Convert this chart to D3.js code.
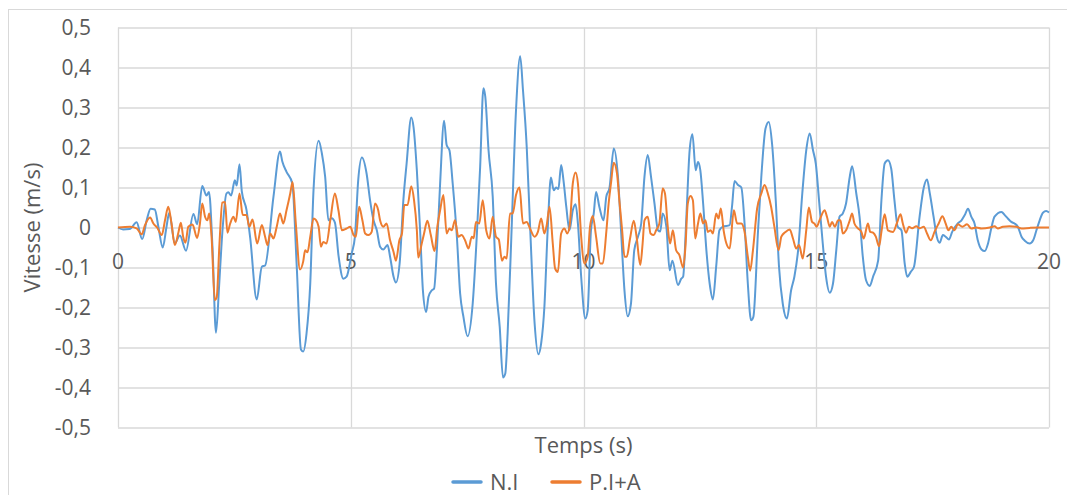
<!DOCTYPE html>
<html>
<head>
<meta charset="utf-8">
<script src="https://cdn.jsdelivr.net/npm/d3@7"></script>
<style>
  body { margin: 0; background: #fff; }
  svg { display: block; font-family: "Open Sans", sans-serif; }
  .tick-label { fill: #595959; font-size: 21px; }
  .axis-title { fill: #595959; font-size: 22px; }
  .legend-label { fill: #595959; font-size: 22px; }
</style>
</head>
<body>
<svg id="chart"></svg>
<script>
// N.I series (time in s, velocity in m/s)
const timeNI = [0, 0.11, 0.25, 0.4, 0.52, 0.62, 0.7, 0.79, 0.87, 0.96, 1.04, 1.1, 1.22, 1.33, 1.46, 1.62, 1.7, 1.81, 1.9, 1.955,
  2.03, 2.105, 2.17, 2.23, 2.33, 2.37, 2.43, 2.51, 2.55, 2.61, 2.66, 2.76, 2.84, 2.98, 3.09, 3.16, 3.34, 3.48, 3.53, 3.62,
  3.745, 3.84, 3.93, 3.98, 4.05, 4.13, 4.2, 4.31, 4.38, 4.45, 4.52, 4.59, 4.66, 4.74, 4.84, 4.91, 5.02, 5.09, 5.16, 5.24,
  5.34, 5.415, 5.49, 5.56, 5.63, 5.7, 5.79, 5.845, 5.92, 5.97, 6.05, 6.13, 6.2, 6.3, 6.35, 6.42, 6.49, 6.55, 6.62, 6.67,
  6.74, 6.79, 6.85, 6.92, 7.005, 7.06, 7.12, 7.19, 7.28, 7.35, 7.42, 7.51, 7.62, 7.71, 7.78, 7.85, 7.89, 7.96, 8.05, 8.12,
  8.2, 8.27, 8.32, 8.37, 8.45, 8.55, 8.64, 8.7, 8.78, 8.85, 8.95, 9.03, 9.09, 9.16, 9.23, 9.3, 9.36, 9.41, 9.46, 9.52,
  9.57, 9.63, 9.7, 9.77, 9.83, 9.88, 9.95, 10.04, 10.09, 10.16, 10.22, 10.27, 10.34, 10.43, 10.49, 10.56, 10.65, 10.74, 10.81, 10.88,
  10.95, 11.02, 11.09, 11.17, 11.24, 11.31, 11.38, 11.45, 11.525, 11.6, 11.65, 11.7, 11.78, 11.85, 11.91, 12.03, 12.1, 12.14, 12.21, 12.28,
  12.34, 12.41, 12.46, 12.51, 12.57, 12.64, 12.71, 12.78, 12.85, 12.92, 12.995, 13.14, 13.19, 13.245, 13.32, 13.39, 13.46, 13.53, 13.6, 13.65,
  13.75, 13.82, 13.91, 13.98, 14.05, 14.13, 14.2, 14.28, 14.37, 14.46, 14.53, 14.61, 14.7, 14.785, 14.86, 14.93, 14.99, 15.06, 15.14, 15.21,
  15.29, 15.36, 15.43, 15.5, 15.57, 15.64, 15.72, 15.77, 15.86, 15.93, 16, 16.07, 16.15, 16.22, 16.33, 16.4, 16.47, 16.54, 16.61, 16.68,
  16.75, 16.83, 16.9, 16.955, 17.03, 17.1, 17.22, 17.31, 17.38, 17.44, 17.52, 17.59, 17.65, 17.72, 17.78, 17.85, 17.92, 18.04, 18.12, 18.19,
  18.26, 18.33, 18.4, 18.47, 18.55, 18.62, 18.69, 18.76, 18.83, 18.98, 19.05, 19.12, 19.19, 19.26, 19.33, 19.41, 19.48, 19.585, 19.66, 19.73,
  19.8, 19.87, 19.94, 20];
const speedNI = [0, -0.005, -0.004, 0.013, -0.029, 0.02, 0.047, 0.045, 0, -0.05, 0, 0.036, -0.039, -0.02, -0.058, 0.034, 0.008, 0.104, 0.08, 0.089,
  -0.05, -0.263, -0.15, -0.031, 0.085, 0.088, 0.08, 0.118, 0.105, 0.158, 0.09, 0.044, -0.026, -0.18, -0.098, -0.095, 0.077, 0.19, 0.165, 0.139,
  0.11, -0.098, -0.305, -0.31, -0.265, -0.14, 0.093, 0.217, 0.185, 0.127, 0.018, 0.023, 0.012, -0.073, -0.128, -0.123, -0.065, -0.023, 0.118, 0.175,
  0.135, 0.068, 0.018, -0.007, -0.048, -0.055, -0.044, -0.073, -0.123, -0.1375, -0.09, 0.068, 0.16, 0.275, 0.25, 0.143, -0.007, -0.157, -0.211, -0.173,
  -0.157, -0.153, -0.057, 0.11, 0.267, 0.206, 0.193, 0.11, -0.023, -0.165, -0.223, -0.272, -0.19, -0.015, 0.152, 0.348, 0.327, 0.193, 0.077, -0.14,
  -0.248, -0.375, -0.365, -0.265, -0.023, 0.293, 0.428, 0.343, 0.202, 0.01, -0.24, -0.317, -0.29, -0.198, -0.007, 0.125, 0.093, 0.1, 0.096, 0.156,
  0.118, 0.052, -0.007, 0.043, 0.058, 0.01, -0.123, -0.2275, -0.207, -0.007, 0.035, 0.089, 0.052, 0.018, 0.077, 0.1, 0.1975, 0.127, -0.015, -0.157,
  -0.222, -0.19, -0.057, -0.023, 0.01, 0.127, 0.181, 0.127, 0.06, -0.007, -0.01, 0.035, 0.002, -0.107, -0.083, -0.144, -0.128, -0.123, 0.027, 0.193,
  0.233, 0.143, 0.164, 0.143, 0.06, -0.057, -0.14, -0.18, -0.098, -0.007, 0.002, 0.006, 0.052, 0.116, 0.106, 0.1, 0.01, -0.14, -0.232, -0.223,
  -0.007, 0.127, 0.2475, 0.264, 0.21, 0.068, -0.098, -0.19, -0.2275, -0.157, -0.123, -0.057, 0.085, 0.193, 0.235, 0.193, 0.16, 0.068, -0.04, -0.123,
  -0.163, -0.14, -0.057, 0.027, 0.035, 0.06, 0.127, 0.153, 0.085, 0.027, -0.073, -0.132, -0.146, -0.123, -0.082, 0.068, 0.16, 0.168, 0.1475, 0.068,
  0.002, -0.007, -0.09, -0.123, -0.111, -0.098, 0.027, 0.1, 0.12, 0.085, 0.027, -0.023, -0.038, -0.019, -0.023, -0.03, -0.011, 0.01, 0.018, 0.031,
  0.047, 0.027, 0.01, -0.032, -0.055, -0.059, -0.04, -0.002, 0.027, 0.039, 0.031, 0.022, 0.014, 0.01, 0.002, -0.023, -0.033, -0.04, -0.032, -0.007,
  0.018, 0.037, 0.041, 0.0375];

// P.I+A series
const timePIA = [0, 0.26, 0.4, 0.51, 0.58, 0.69, 0.76, 0.84, 0.94, 1.01, 1.08, 1.15, 1.22, 1.3, 1.35, 1.4, 1.45, 1.51, 1.6, 1.7,
  1.76, 1.81, 1.87, 1.92, 1.96, 2.01, 2.08, 2.12, 2.18, 2.24, 2.3, 2.35, 2.41, 2.48, 2.53, 2.61, 2.68, 2.76, 2.82, 2.89,
  2.99, 3.09, 3.16, 3.21, 3.27, 3.34, 3.41, 3.48, 3.55, 3.62, 3.7, 3.75, 3.82, 3.91, 3.98, 4.02, 4.07, 4.13, 4.2, 4.25,
  4.31, 4.36, 4.41, 4.48, 4.56, 4.66, 4.735, 4.81, 4.91, 4.99, 5.06, 5.11, 5.18, 5.25, 5.31, 5.38, 5.45, 5.52, 5.59, 5.63,
  5.7, 5.77, 5.845, 5.92, 5.97, 6.045, 6.1, 6.15, 6.22, 6.3, 6.36, 6.42, 6.45, 6.525, 6.575, 6.645, 6.72, 6.8, 6.86, 6.92,
  6.99, 7.06, 7.12, 7.17, 7.24, 7.31, 7.38, 7.455, 7.53, 7.6, 7.64, 7.69, 7.76, 7.835, 7.91, 7.98, 8.05, 8.12, 8.18, 8.25,
  8.3, 8.35, 8.42, 8.48, 8.55, 8.625, 8.7, 8.78, 8.85, 8.95, 9.02, 9.09, 9.16, 9.21, 9.27, 9.34, 9.39, 9.45, 9.52, 9.59,
  9.65, 9.7, 9.77, 9.83, 9.88, 9.95, 10.02, 10.09, 10.14, 10.2, 10.27, 10.36, 10.415, 10.49, 10.54, 10.59, 10.65, 10.72, 10.77, 10.83,
  10.88, 10.93, 11, 11.08, 11.14, 11.22, 11.27, 11.31, 11.38, 11.44, 11.51, 11.56, 11.63, 11.7, 11.75, 11.81, 11.86, 11.92, 11.99, 12.06,
  12.14, 12.19, 12.24, 12.3, 12.35, 12.4, 12.46, 12.51, 12.57, 12.62, 12.67, 12.73, 12.78, 12.85, 12.9, 12.95, 13.01, 13.07, 13.14, 13.23,
  13.3, 13.39, 13.46, 13.53, 13.58, 13.64, 13.73, 13.82, 13.89, 13.96, 14.03, 14.1, 14.19, 14.25, 14.34, 14.43, 14.5, 14.57, 14.63, 14.71,
  14.785, 14.84, 14.91, 14.96, 15.01, 15.07, 15.18, 15.23, 15.29, 15.34, 15.4, 15.47, 15.52, 15.57, 15.64, 15.72, 15.77, 15.82, 15.9, 15.97,
  16.02, 16.11, 16.16, 16.22, 16.28, 16.35, 16.4, 16.47, 16.54, 16.65, 16.73, 16.81, 16.86, 16.93, 16.99, 17.06, 17.15, 17.22, 17.31, 17.38,
  17.46, 17.54, 17.63, 17.71, 17.78, 17.84, 17.9, 17.97, 18.04, 18.14, 18.24, 18.33, 18.44, 18.55, 18.73, 18.83, 18.9, 19.01, 19.15, 19.3,
  19.41, 19.585, 19.8, 20];
const speedPIA = [0, 0.002, -0.002, -0.017, 0.006, 0.025, 0.01, 0, -0.019, 0.018, 0.052, 0.01, -0.044, -0.011, 0.012, -0.023, -0.038, 0.002, 0.0075, -0.026,
  0.01, 0.06, 0.027, 0.018, 0.035, -0.023, -0.182, -0.175, -0.04, 0.062, 0.064, -0.013, 0.01, 0.027, 0.014, 0.085, 0.031, 0.031, 0.002, 0.02,
  -0.04, 0.006, -0.023, -0.044, -0.015, -0.0275, 0.002, 0.035, 0.01, 0.043, 0.085, 0.114, 0.01, -0.105, -0.084, -0.057, -0.062, -0.023, 0.0225, 0.019,
  0.002, -0.048, -0.036, -0.04, 0.018, 0.085, 0.043, -0.007, -0.0025, 0.002, -0.019, -0.023, 0.052, 0.018, -0.015, -0.019, -0.011, 0.06, 0.043, 0.018,
  0.002, 0.01, -0.032, -0.061, -0.083, -0.032, -0.015, 0.056, 0.056, 0.103, 0.068, -0.007, -0.075, -0.04, -0.015, 0.017, -0.019, -0.059, 0.002, 0.043,
  0.081, -0.015, -0.0025, -0.007, 0.018, -0.023, -0.019, -0.032, -0.0525, -0.023, -0.027, 0.014, 0.01, 0.068, -0.007, -0.0275, 0.027, -0.023, -0.03, -0.083,
  -0.073, -0.0775, 0.035, 0.035, 0.081, 0.1, 0.01, 0.014, -0.0025, -0.023, -0.011, 0.0225, -0.015, 0.006, 0.052, -0.04, -0.1025, -0.111, -0.015, -0.0025,
  -0.015, 0.002, 0.11, 0.1375, 0.11, -0.023, -0.09, -0.073, 0.002, 0.029, -0.023, -0.09, -0.09, -0.011, 0.06, 0.11, 0.162, 0.135, 0.068, -0.007,
  -0.073, -0.073, -0.0275, 0.017, -0.023, -0.094, -0.04, 0.018, 0.027, -0.015, -0.019, -0.007, 0.01, 0.0975, 0.085, 0.002, -0.04, -0.007, -0.057, -0.069,
  -0.1, -0.048, 0.06, 0.079, 0.068, -0.0275, 0.01, 0.035, 0.01, 0.018, -0.011, -0.007, -0.015, 0.035, 0.0225, 0.0475, -0.007, -0.04, -0.0525, 0.043,
  0.01, 0.01, -0.011, -0.073, -0.108, -0.057, 0.0475, 0.085, 0.106, 0.085, 0.052, 0.002, -0.057, -0.023, -0.011, -0.005, -0.0275, -0.0525, -0.044, -0.0775,
  -0.007, 0.05, 0.014, 0.01, 0.002, 0.018, 0.043, 0.027, 0.002, 0.014, 0.002, 0.018, 0.018, -0.015, -0.007, 0.018, 0.035, 0.01, -0.0025, -0.011,
  -0.0275, 0.01, -0.011, -0.013, -0.023, -0.047, -0.011, 0.033, -0.007, -0.011, 0.01, 0.033, 0.01, -0.013, 0.002, -0.002, 0.003, -0.002, 0.002, -0.015,
  -0.032, -0.011, 0.01, 0.028, 0.01, -0.007, 0.002, -0.007, 0.008, 0.002, 0.008, -0.0025, 0, -0.0025, 0, 0.003, -0.0025, 0.002, 0.003, 0.002,
  -0.0025, -0.001, 0, 0];

const xTicks = [0, 5, 10, 15, 20];
const yTicks = [-0.5, -0.4, -0.3, -0.2, -0.1, 0, 0.1, 0.2, 0.3, 0.4, 0.5];
const seriesNames = ["N.I", "P.I+A"];
const seriesColors = ["#5b9bd5", "#ed7d31"];

const width = 1067;
const height = 495;
const margin = { top: 27.5, right: 18, bottom: 67.5, left: 118 };
const innerWidth = width - margin.left - margin.right;
const innerHeight = height - margin.top - margin.bottom;

const fr = d3.formatLocale({ decimal: ",", thousands: " ", grouping: [3], currency: ["", ""], minus: "-" });
const fmt = fr.format(".1~f");

const svg = d3.select("#chart").attr("width", width).attr("height", height);

// outer chart border (only top/left are inside the frame)
svg.append("rect")
  .attr("x", 8.5).attr("y", 9.5)
  .attr("width", width).attr("height", height)
  .attr("fill", "none").attr("stroke", "#d9d9d9");

const g = svg.append("g").attr("transform", `translate(${margin.left},${margin.top})`);

const x = d3.scaleLinear().domain([0, 20]).range([0, innerWidth]);
const y = d3.scaleLinear().domain([-0.5, 0.5]).range([innerHeight, 0]);

// gridlines
g.append("g").selectAll("line").data(yTicks).join("line")
  .attr("x1", 0).attr("x2", innerWidth)
  .attr("y1", d => Math.round(y(d)) + 0.5).attr("y2", d => Math.round(y(d)) + 0.5)
  .attr("stroke", "#d9d9d9").attr("stroke-width", 1.3);

g.append("g").selectAll("line").data(xTicks).join("line")
  .attr("x1", d => Math.round(x(d)) + 0.5).attr("x2", d => Math.round(x(d)) + 0.5)
  .attr("y1", 0).attr("y2", innerHeight)
  .attr("stroke", "#d9d9d9").attr("stroke-width", 1.3);

// y tick labels
g.append("g").selectAll("text").data(yTicks).join("text")
  .attr("class", "tick-label")
  .attr("x", -27).attr("y", d => y(d))
  .attr("dy", "0.36em")
  .attr("text-anchor", "end")
  .text(d => fmt(d));

// x tick labels, sitting under the zero line
g.append("g").selectAll("text").data(xTicks).join("text")
  .attr("class", "tick-label")
  .attr("x", d => x(d)).attr("y", y(0) + 41.5)
  .attr("text-anchor", "middle")
  .text(d => d);

// lines
const series = [
  timeNI.map((t, i) => ({ t, v: speedNI[i] })),
  timePIA.map((t, i) => ({ t, v: speedPIA[i] }))
];

const line = d3.line()
  .x(d => x(d.t))
  .y(d => y(d.v))
  .curve(d3.curveMonotoneX);

g.append("g").selectAll("path").data(series).join("path")
  .attr("fill", "none")
  .attr("stroke", (d, i) => seriesColors[i])
  .attr("stroke-width", 2)
  .attr("stroke-linejoin", "round")
  .attr("d", line);

// axis titles
svg.append("text")
  .attr("class", "axis-title")
  .attr("x", margin.left + innerWidth / 2).attr("y", 453)
  .attr("text-anchor", "middle")
  .text("Temps (s)");

svg.append("text")
  .attr("class", "axis-title")
  .attr("transform", `translate(40,${margin.top + innerHeight / 2}) rotate(-90)`)
  .attr("text-anchor", "middle")
  .text("Vitesse (m/s)");

// legend
const legendX = [453, 552];
const legend = svg.append("g").selectAll("g").data(seriesNames).join("g")
  .attr("transform", (d, i) => `translate(${legendX[i]},482)`);

legend.append("line")
  .attr("x1", 0).attr("x2", 28)
  .attr("stroke", (d, i) => seriesColors[i])
  .attr("stroke-width", 3.5)
  .attr("stroke-linecap", "round");

legend.append("text")
  .attr("class", "legend-label")
  .attr("x", 37).attr("y", 7.5)
  .text(d => d);
</script>
</body>
</html>
